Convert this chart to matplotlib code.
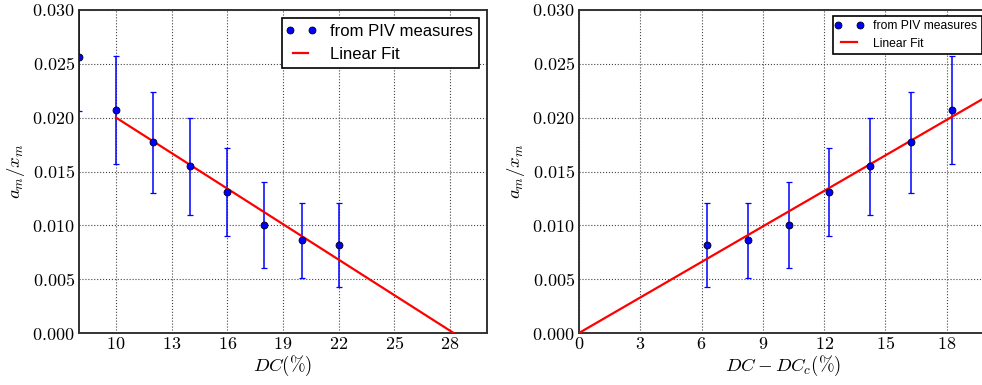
import matplotlib
matplotlib.use("Agg")
import matplotlib.pyplot as plt
from matplotlib.ticker import FuncFormatter, FixedLocator
from matplotlib.legend_handler import HandlerLine2D

plt.rcParams['mathtext.fontset'] = 'cm'
plt.rcParams['font.family'] = ['Liberation Sans', 'DejaVu Sans']

# Left panel data
dc = [8, 10, 12, 14, 16, 18, 20, 22]
ratio = [0.0256, 0.0207, 0.0177, 0.0155, 0.0131, 0.0100, 0.0086, 0.0082]
ratio_err = [0.0050, 0.0050, 0.0047, 0.0045, 0.0041, 0.0040, 0.0035, 0.0039]
fit_left_x = [10, 28.2]
fit_left_y = [0.0200, 0.0]

# Right panel data
dc_shift = [6.26, 8.26, 10.26, 12.26, 14.26, 16.26, 18.26]
ratio_r = [0.0082, 0.0086, 0.0100, 0.0131, 0.0155, 0.0177, 0.0207]
ratio_r_err = [0.0039, 0.0035, 0.0040, 0.0041, 0.0045, 0.0047, 0.0050]
fit_right_x = [0, 20.5]
fit_right_y = [0.0, 0.02255]

xticks_left = [10, 13, 16, 19, 22, 25, 28]
xticks_right = [0, 3, 6, 9, 12, 15, 18]
yticks = [0.000, 0.005, 0.010, 0.015, 0.020, 0.025, 0.030]

fig = plt.figure(figsize=(9.82, 3.85), dpi=100)
ax1 = fig.add_axes([79/982, 52/385, 408/982, 323/385])
ax2 = fig.add_axes([579/982, 52/385, 408.6/982, 323/385])

def style(ax, xticks, xlim, xlabel):
    ax.set_xlim(*xlim)
    ax.set_ylim(0, 0.030)
    ax.xaxis.set_major_locator(FixedLocator(xticks))
    ax.yaxis.set_major_locator(FixedLocator(yticks))
    ax.xaxis.set_major_formatter(FuncFormatter(lambda v, p: r'$%d$' % round(v)))
    ax.yaxis.set_major_formatter(FuncFormatter(lambda v, p: r'$%.3f$' % v))
    ax.tick_params(axis='both', length=0, labelsize=13, direction='in')
    ax.tick_params(axis='x', pad=2)
    ax.tick_params(axis='y', pad=3)
    ax.grid(True, linestyle=':', color='#444444', linewidth=0.8)
    for s in ax.spines.values():
        s.set_linewidth(1.4)
        s.set_color('#333333')
    ax.set_xlabel(xlabel, fontsize=13.5, labelpad=1)
    ax.set_ylabel(r'$a_m/x_m$', fontsize=13.5, labelpad=4)

def draw(ax, x, y, e, fx, fy, lsize, hl):
    ax.errorbar(x, y, yerr=e, fmt='none', ecolor='blue', elinewidth=1.1,
                capsize=2.2, capthick=0.9, zorder=3, clip_on=True)
    pts, = ax.plot(x, y, 'o', color='blue', markeredgecolor='black', markeredgewidth=0.6,
                   markersize=5, label='from PIV measures', zorder=5, clip_on=True)
    ax.plot(fx, fy, '-', color='red', linewidth=1.6, label='Linear Fit', zorder=4)
    leg = ax.legend(loc='upper right', numpoints=2, fontsize=lsize, fancybox=False,
                    edgecolor='black', framealpha=1, handlelength=hl,
                    handletextpad=1.0, borderpad=0.35, labelspacing=0.45,
                    handler_map={pts: HandlerLine2D(marker_pad=0.08)})
    leg.get_frame().set_linewidth(1.2)

draw(ax1, dc, ratio, ratio_err, fit_left_x, fit_left_y, 12, 1.5)
style(ax1, xticks_left, (8, 30), r'$DC(\%)$')
draw(ax2, dc_shift, ratio_r, ratio_r_err, fit_right_x, fit_right_y, 8.7, 2.0)
style(ax2, xticks_right, (0, 20), r'$DC-DC_c(\%)$')

fig.savefig('out.png', dpi=100)
